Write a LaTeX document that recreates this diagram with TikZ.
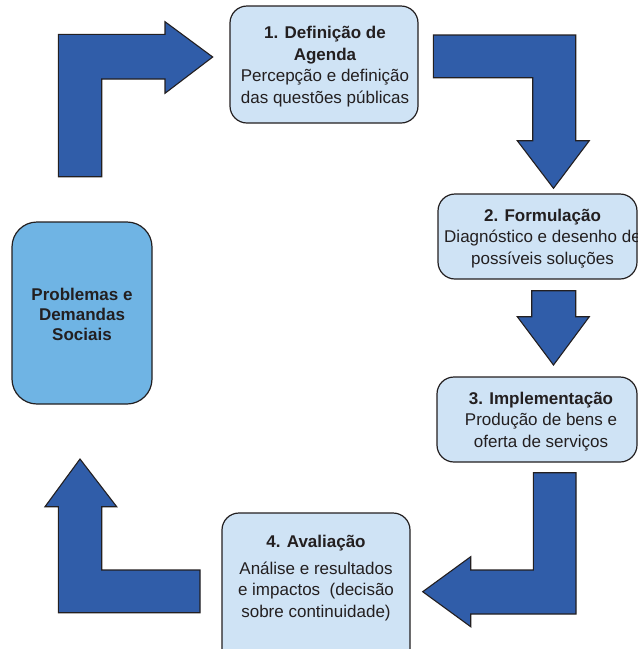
\documentclass[tikz,border=0pt]{standalone}
\usepackage{fontspec}
\setmainfont{Liberation Sans}
\definecolor{arrowblue}{HTML}{305DA9}
\definecolor{lightbox}{HTML}{CFE3F5}
\definecolor{midbox}{HTML}{6FB4E4}
\definecolor{ink}{HTML}{231F20}
\tikzset{
  blockarrow/.style={fill=arrowblue, draw=ink, line width=1.1pt, line join=miter},
  stagebox/.style={fill=lightbox, draw=ink, line width=1.2pt, rounded corners=17pt, inner sep=0pt},
  txt/.style={text=ink, align=center, font=\fontsize{17}{21.5}\selectfont, inner sep=0pt},
}
\begin{document}
\begin{tikzpicture}[x=1pt,y=-1pt]
\useasboundingbox (0,0) rectangle (638,649);
\clip (0,0) rectangle (638,649);
% boxes
\node[stagebox, minimum width=188pt, minimum height=117pt] (b1) at (324,64.5) {};
\node[stagebox, minimum width=199pt, minimum height=85pt] (b2) at (537.5,236.5) {};
\node[stagebox, minimum width=200pt, minimum height=85pt] (b3) at (537,419.5) {};
\node[stagebox, minimum width=188pt, minimum height=167pt] (b4) at (316,596.5) {};
\node[stagebox, fill=midbox, rounded corners=25pt, minimum width=140pt, minimum height=182pt] (b0) at (82,313) {};
% texts
\node[txt] (t1) at (325,66.5) {\textbf{1. Definição de}\\\textbf{Agenda}\\Percepção e definição\\das questões públicas};
\node[txt] (t2) at (542.5,238.5) {\textbf{2. Formulação}\\Diagnóstico e desenho de\\possíveis soluções};
\node[txt] (t3) at (541,421.5) {\textbf{3. Implementação}\\Produção de bens e\\oferta de serviços};
\node[txt] (t4) at (316,578) {\textbf{4. Avaliação}\\[5pt]Análise e resultados\\e impactos\ \ (decisão\\sobre continuidade)};
\node[txt, font=\fontsize{17}{20}\selectfont] (t0) at (82,314.5) {\textbf{Problemas e}\\\textbf{Demandas}\\\textbf{Sociais}};
% block arrows
\draw[blockarrow] (58.3,176.7) -- (58.3,34.3) -- (165,34.3) -- (165,21.7) -- (212.7,57) -- (165,93.3) -- (165,79) -- (101.7,79) -- (101.7,176.7) -- cycle;
\draw[blockarrow] (433.3,35) -- (575.7,35) -- (575.7,140.7) -- (589.3,140.7) -- (553.5,188.3) -- (517.3,140.7) -- (532.7,140.7) -- (532.7,77.7) -- (433.3,77.7) -- cycle;
\draw[blockarrow] (531.7,290.7) -- (575.7,290.7) -- (575.7,316.7) -- (589.3,316.7) -- (553.5,365) -- (517.3,316.7) -- (531.7,316.7) -- cycle;
\draw[blockarrow] (533.3,472.7) -- (576,472.7) -- (576,614) -- (470.7,614) -- (470.7,626.7) -- (422.7,591.7) -- (470.7,556.7) -- (470.7,570) -- (533.3,570) -- cycle;
\draw[blockarrow] (80,459) -- (116.7,506.7) -- (101.7,506.7) -- (101.7,570) -- (200,570) -- (200,612.7) -- (58.3,612.7) -- (58.3,506.7) -- (45,506.7) -- cycle;
\end{tikzpicture}
\end{document}
